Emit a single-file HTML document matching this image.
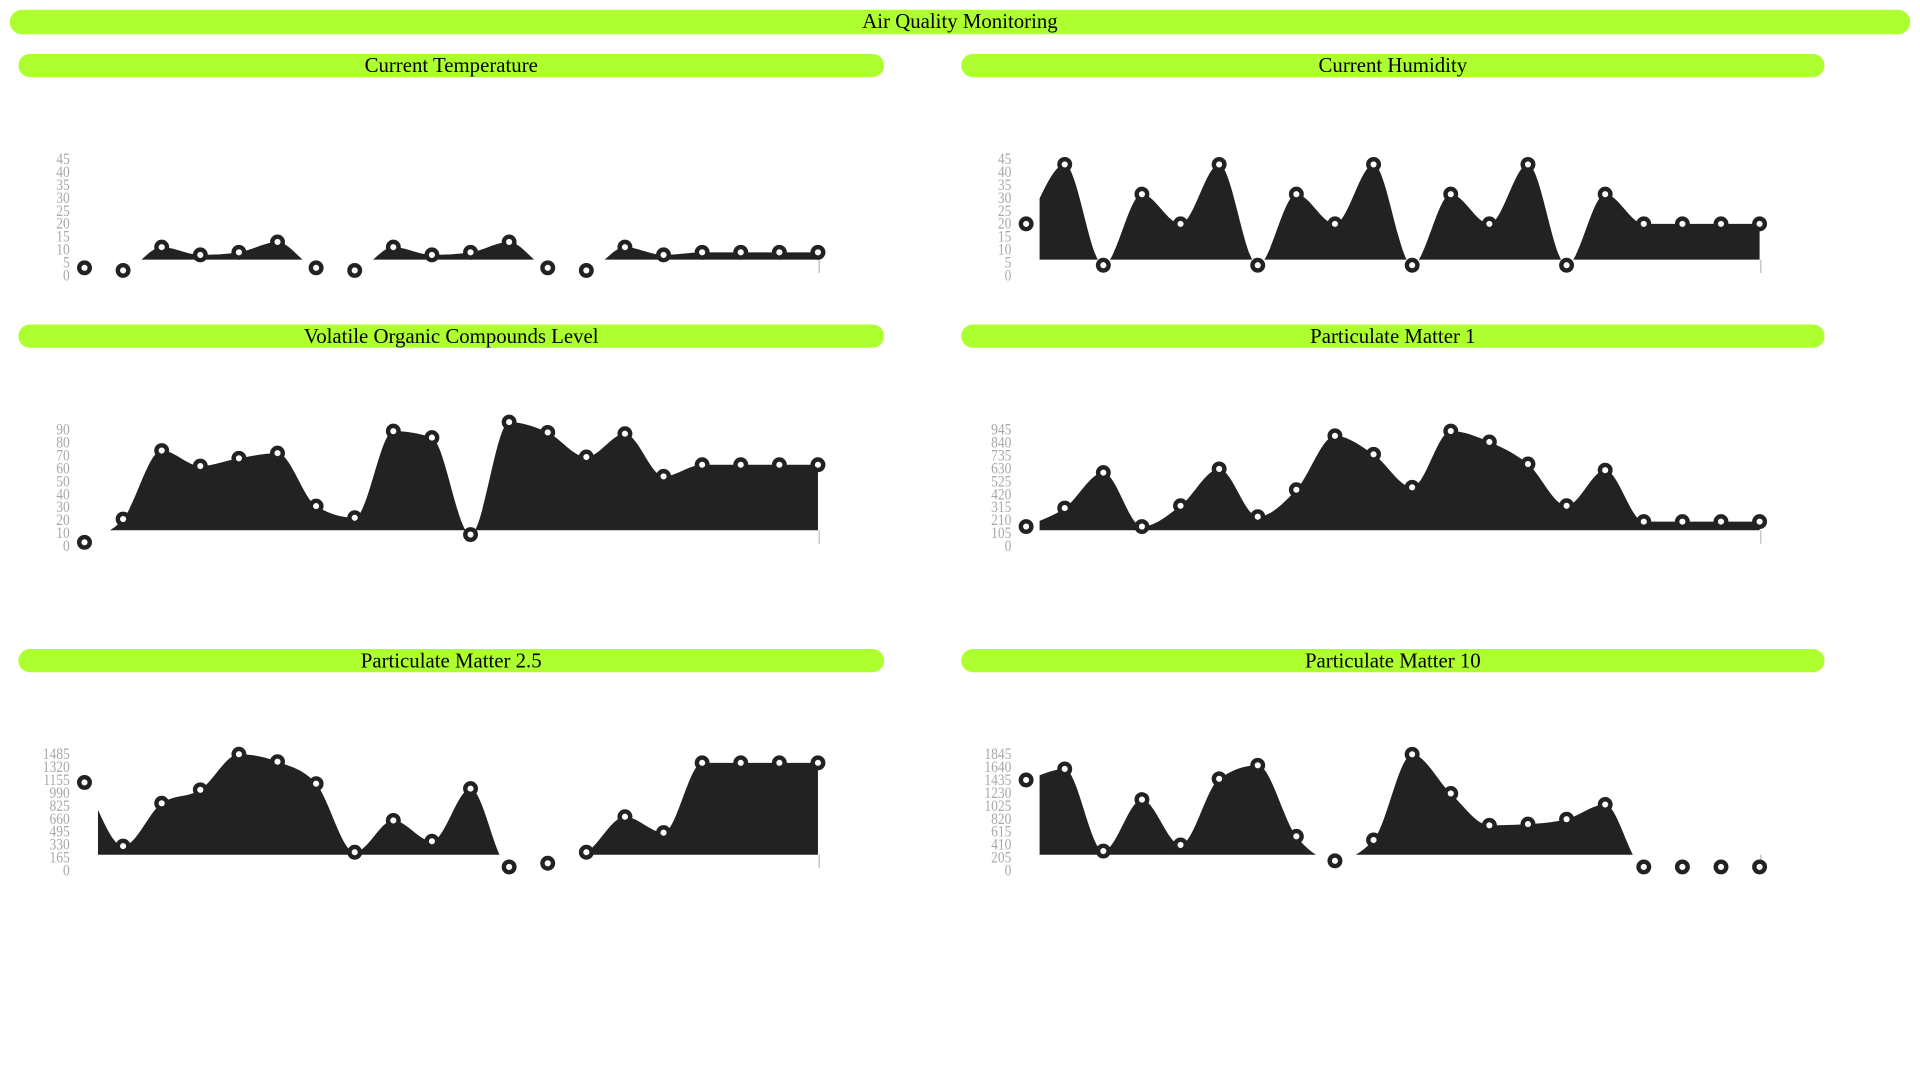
<!DOCTYPE html>
<html><head><meta charset="utf-8">
<style>
html,body{margin:0;padding:0;background:#fff;}
body{width:1920px;height:1080px;overflow:hidden;}
#wrap{width:1568px;height:882px;transform:scale(1.22449);transform-origin:0 0;position:relative;font-family:"Liberation Serif",serif;}
.bar{position:absolute;background:#adff2f;border-radius:10px;text-align:center;color:#000;font-size:17px;line-height:19px;height:19px;}
svg{position:absolute;left:0;top:0;}
</style></head><body>
<div id="wrap">
<div class="bar" style="left:8px;top:8px;width:1552px;height:20px;line-height:20px;">Air Quality Monitoring</div>
<div class="bar" style="left:15px;top:44px;width:707px;">Current Temperature</div>
<div class="bar" style="left:785px;top:44px;width:705px;">Current Humidity</div>
<div class="bar" style="left:15px;top:265px;width:707px;">Volatile Organic Compounds Level</div>
<div class="bar" style="left:785px;top:265px;width:705px;">Particulate Matter 1</div>
<div class="bar" style="left:15px;top:530px;width:707px;">Particulate Matter 2.5</div>
<div class="bar" style="left:785px;top:530px;width:705px;">Particulate Matter 10</div>
<svg id="charts" width="1568" height="882"></svg>
</div>
<script>
const tempValues = [2.5,1.5,10.5,7.5,8.5,12.5,2.5,1.5,10.5,7.5,8.5,12.5,2.5,1.5,10.5,7.5,8.5,8.5,8.5,8.5];
const humidityValues = [19.5,42.5,3.5,31,19.5,42.5,3.5,31,19.5,42.5,3.5,31,19.5,42.5,3.5,31,19.5,19.5,19.5,19.5];
const vocValues = [2,20,73,61,67,71,30,21,88,83,8,95,87,68,86,53,62,62,62,62];
const pm1Values = [149,299,587,149,318,617,229,448,886,736,468,925,836,657,318,607,189,189,189,189];
const pm25Values = [1110,297,844,1016,1470,1375,1094,219,625,359,1031,31,78,219,672,469,1360,1360,1360,1360];
const pm10Values = [1418,1593,291,1107,388,1437,1651,524,136,466,1825,1204,699,718,796,1029,39,39,39,39];
const tempTicks = [0,5,10,15,20,25,30,35,40,45];
const humidityTicks = [0,5,10,15,20,25,30,35,40,45];
const vocTicks = [0,10,20,30,40,50,60,70,80,90];
const pm1Ticks = [0,105,210,315,420,525,630,735,840,945];
const pm25Ticks = [0,165,330,495,660,825,990,1155,1320,1485];
const pm10Ticks = [0,205,410,615,820,1025,1230,1435,1640,1845];

const NS="http://www.w3.org/2000/svg";
const svg=document.getElementById('charts');
function mk(tag,attrs,parent){const e=document.createElementNS(NS,tag);for(const k in attrs)e.setAttribute(k,attrs[k]);(parent||svg).appendChild(e);return e;}

function monotonePath(pts){
  const n=pts.length; if(n<2) return '';
  const d=[],m=new Array(n);
  for(let i=0;i<n-1;i++) d.push((pts[i+1][1]-pts[i][1])/(pts[i+1][0]-pts[i][0]));
  m[0]=d[0]; m[n-1]=d[n-2];
  for(let i=1;i<n-1;i++){ if(d[i-1]*d[i]<=0) m[i]=0; else { const h0=pts[i][0]-pts[i-1][0],h1=pts[i+1][0]-pts[i][0]; const p=(d[i-1]*h1+d[i]*h0)/(h0+h1); m[i]=(Math.sign(d[i-1])+Math.sign(d[i]))*Math.min(Math.abs(d[i-1]),Math.abs(d[i]),0.5*Math.abs(p)); } }
  let s='M'+pts[0][0]+','+pts[0][1];
  for(let i=0;i<n-1;i++){const h=(pts[i+1][0]-pts[i][0])/3;
    s+=' C'+(pts[i][0]+h)+','+(pts[i][1]+m[i]*h)+' '+(pts[i+1][0]-h)+','+(pts[i+1][1]-m[i+1]*h)+' '+pts[i+1][0]+','+pts[i+1][1];}
  return s;
}

let cid=0;
function chart(name,values,ticks,ox,y0){
  const g=mk('g',{});
  
  
  const max=ticks[ticks.length-1];
  const y=v=>y0-v/max*95;
  const n=values.length;
  const px=i=>ox+69+i*(599/(n-1));
  const base=y0-12;
  ticks.forEach(t=>{
    const tx=mk('text',{x:ox+57,y:y(t)+5,'text-anchor':'end','font-size':'13','fill':'#a8a8a8','font-family':'"Liberation Serif",serif',
      'transform':'translate('+(ox+57)+',0) scale(0.85,1) translate('+(-(ox+57))+',0)'},g);
    tx.textContent=t;
    
    
  });
  cid++;
  const defs=mk('defs',{},g);
  const cp=mk('clipPath',{id:'c'+cid},defs);
  mk('rect',{x:ox+80,y:y0-140,width:589,height:140-12},cp);
  const pts=values.map((v,i)=>[px(i),y(v)]);
  let d=monotonePath(pts);
  d+=' L'+px(n-1)+','+(base+40)+' L'+px(0)+','+(base+40)+' Z';
  const area=mk('path',{d:d,fill:'#222','clip-path':'url(#c'+cid+')'},g);
  
  
  const ax2=mk('line',{x1:ox+669,x2:ox+669,y1:base,y2:y0-1,stroke:'#bbb','stroke-width':1},g);
  
  
  values.forEach((v,i)=>{
    const c=mk('circle',{cx:px(i),cy:y(v),r:4.3,fill:'#fff',stroke:'#222','stroke-width':3.6},g);
    
    
  });
}
chart('temperature',tempValues,tempTicks,0,224);
chart('humidity',humidityValues,humidityTicks,769,224);
chart('voc',vocValues,vocTicks,0,445);
chart('pm1',pm1Values,pm1Ticks,769,445);
chart('pm25',pm25Values,pm25Ticks,0,710);
chart('pm10',pm10Values,pm10Ticks,769,710);
</script>
</body></html>
